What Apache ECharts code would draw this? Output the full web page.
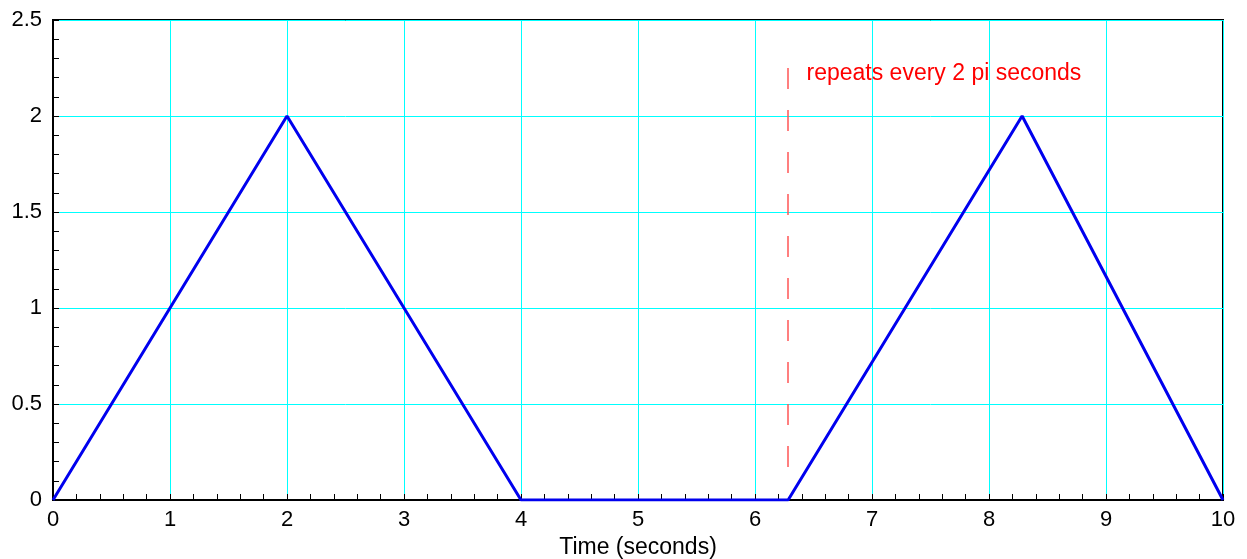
<!DOCTYPE html>
<html>
<head>
<meta charset="utf-8">
<script src="https://cdn.jsdelivr.net/npm/echarts@6/dist/echarts.min.js"></script>
<style>
html,body{margin:0;padding:0;background:#fff;}
#chart{width:1247px;height:559px;}
</style>
</head>
<body>
<div id="chart"></div>
<script>
// corner points of the triangle wave
var timeVals = [0, 2, 4, 6.283, 8.283, 10];
var waveVals = [0, 2, 0, 0, 2, 0];
// dashed marker at 2 pi (drawn top -> bottom)
var markX = 6.283;
var markYRange = [2.25, 0.15];
var noteText = 'repeats every 2 pi seconds';
var notePos = [6.44, 2.22];

var lineData = timeVals.map(function (t, i) {
    return [t, waveVals[i]];
});

var font = 'Liberation Sans, Arial, sans-serif';
var myChart = echarts.init(document.getElementById('chart'));
var option = {
    backgroundColor: '#fff',
    animation: false,
    // 117px per second, 192px per unit
    grid: {
        left: 53,
        right: 24,
        top: 20,
        bottom: 59,
        outerBoundsMode: 'none',
        show: true,
        borderColor: '#000',
        borderWidth: 2
    },
    xAxis: {
        type: 'value',
        min: 0,
        max: 10,
        interval: 1,
        name: 'Time (seconds)',
        nameLocation: 'middle',
        nameGap: 35,
        nameTextStyle: { color: '#000', fontSize: 23, fontFamily: font },
        axisLine: { lineStyle: { color: '#000', width: 2 } },
        axisTick: { show: true, inside: true, length: 6, lineStyle: { color: '#000' } },
        minorTick: { show: true, splitNumber: 5, length: 6, lineStyle: { color: '#000' } },
        axisLabel: { color: '#000', fontSize: 22, fontFamily: font, margin: 9 },
        splitLine: { show: true, lineStyle: { color: ['#00ffff'], width: 1, opacity: 1 } }
    },
    yAxis: {
        type: 'value',
        min: 0,
        max: 2.5,
        interval: 0.5,
        axisLine: { show: true, lineStyle: { color: '#000', width: 2 } },
        axisTick: { show: true, inside: true, length: 6, lineStyle: { color: '#000' } },
        minorTick: { show: true, splitNumber: 5, length: 6, lineStyle: { color: '#000' } },
        axisLabel: { color: '#000', fontSize: 22, fontFamily: font, margin: 11 },
        splitLine: { show: true, lineStyle: { color: ['#00ffff'], width: 1, opacity: 1 } }
    },
    series: [{
        type: 'line',
        data: lineData,
        symbol: 'none',
        lineStyle: { color: '#0000ee', width: 3 },
        z: 5,
        markLine: {
            silent: true,
            symbol: 'none',
            label: { show: false },
            lineStyle: { color: '#ff5555', type: [21, 21], width: 1.5 },
            data: [[
                { coord: [markX, markYRange[0]] },
                { coord: [markX, markYRange[1]] }
            ]]
        },
        markPoint: {
            silent: true,
            symbol: 'circle',
            symbolSize: 0,
            label: {
                show: true,
                position: 'right',
                distance: 0,
                color: '#ff0000',
                fontSize: 23,
                fontFamily: font,
                formatter: noteText
            },
            data: [{ coord: notePos }]
        }
    }]
};
myChart.setOption(option);
</script>
</body>
</html>
